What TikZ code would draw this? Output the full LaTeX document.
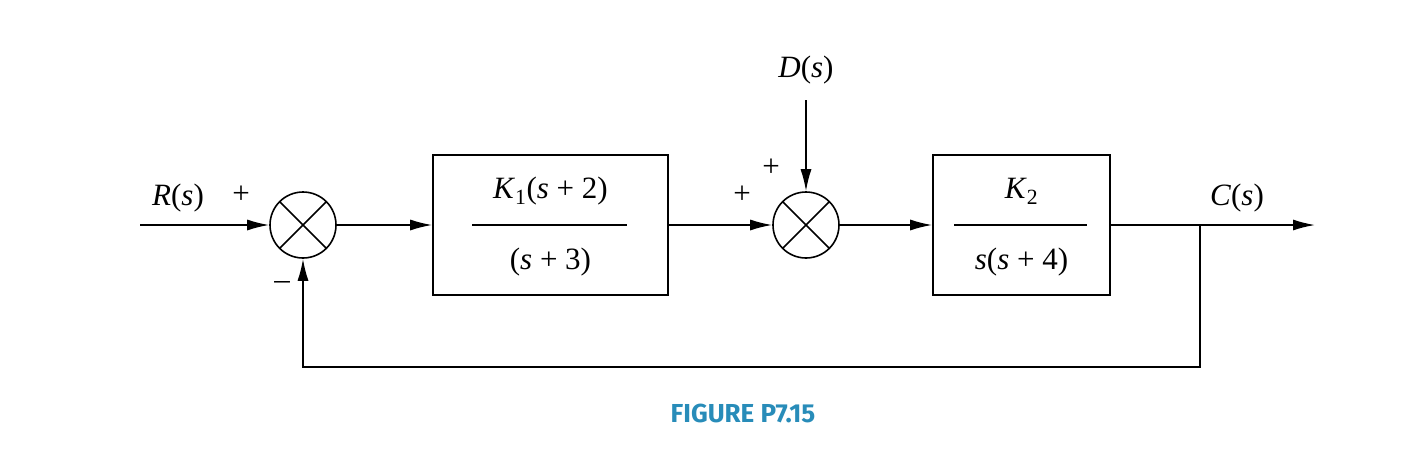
\documentclass[tikz,border=0pt]{standalone}
\usepackage{fontspec}
\setmainfont{Liberation Serif}
\newfontfamily\capfont{Fira Sans}
\usetikzlibrary{arrows.meta}
\newcommand{\iv}[1]{\textit{#1}}
\begin{document}
\begin{tikzpicture}[x=1pt,y=-1pt,
  line width=1.6pt,
  arr/.style={-{Latex[length=22pt,width=11pt]}},
  blk/.style={draw,minimum width=235pt,minimum height=140pt,inner sep=0pt},
  sum/.style={draw,circle,minimum size=66pt,inner sep=0pt,path picture={
    \draw (path picture bounding box.north west)--(path picture bounding box.south east)
          (path picture bounding box.north east)--(path picture bounding box.south west);}},
  lbl/.style={font=\fontsize{31}{36}\selectfont}]
\useasboundingbox (0,0) rectangle (1401,459);
\node[sum] (s1) at (303,225) {};
\node[sum] (s2) at (806,225) {};
\node[blk] (g1) at (550.5,225) {};
\node[blk,minimum width=177pt] (g2) at (1021.5,225) {};
\draw (g1.west)++(40,0) -- ++(155,0);
\draw (g2.west)++(22,0) -- ++(133,0);
\node[lbl] (n1) at (550.5,191) {\iv{K}\textsubscript{1}(\iv{s} + 2)};
\node[lbl] (d1) at (550.5,262) {(\iv{s} + 3)};
\node[lbl] (n2) at (1021.5,191) {\iv{K}\textsubscript{2}};
\node[lbl] (d2) at (1021.5,262) {\iv{s}(\iv{s} + 4)};
\coordinate (in) at (140,225);
\coordinate (out) at (1315,225);
\coordinate (tap) at (1200,225);
\coordinate (dtop) at (806,100);
\coordinate (fb1) at (1200,367);
\coordinate (fb2) at (303,367);
\draw[arr] (in) -- (s1.west);
\draw[arr] (s1.east) -- (g1.west);
\draw[arr] (g1.east) -- (s2.west);
\draw[arr] (s2.east) -- (g2.west);
\draw[arr] (g2.east) -- (out);
\draw[arr] (dtop) -- (s2.north);
\draw[arr] (tap) -- (fb1) -- (fb2) -- (s1.south);
\node[lbl] (R) at (178,198) {\iv{R}(\iv{s})};
\node[lbl] (C) at (1237,198) {\iv{C}(\iv{s})};
\node[lbl] (D) at (806,70) {\iv{D}(\iv{s})};
\node[lbl] (p1) at (241,195) {+};
\node[lbl] (m1) at (282,285) {–};
\node[lbl] (p2) at (742,195) {+};
\node[lbl] (p3) at (771,168) {+};
\node[font=\capfont\bfseries\fontsize{26}{30}\selectfont,text={rgb,255:red,40;green,140;blue,185}] (cap) at (743,413) {FIGURE P7.15};
\end{tikzpicture}
\end{document}
